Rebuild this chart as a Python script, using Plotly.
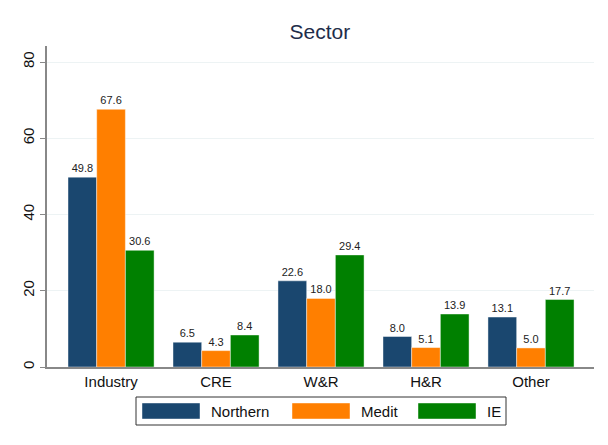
import plotly.graph_objects as go

NAVY = '#1a476f'
ORANGE = '#ff7f00'
GREEN = '#008000'

sectors = ['Industry', 'CRE', 'W&R', 'H&R', 'Other']
northern = [49.8, 6.5, 22.6, 8.0, 13.1]
medit = [67.6, 4.3, 18.0, 5.1, 5.0]
ie = [30.6, 8.4, 29.4, 13.9, 17.7]
y_ticks = [0, 20, 40, 60, 80]

W, H = 608, 445
ML, MR, MT, MB = 39, 22, 38, 86
PW, PH = W - ML - MR, H - MT - MB


def px_x(x):
    return (x - ML) / PW


def px_y(y):
    return (H - MB - y) / PH


series = [('Northern', northern, NAVY), ('Medit', medit, ORANGE), ('IE', ie, GREEN)]

fig = go.Figure()
for name, vals, col in series:
    fig.add_trace(go.Bar(
        x=sectors, y=vals, name=name, showlegend=False,
        marker=dict(color=col, line=dict(color='rgba(255,255,255,0.55)', width=0.8)),
        text=[f'{v:.1f}' for v in vals], textposition='outside',
        textfont=dict(size=11, color='#222222'), cliponaxis=False,
    ))

# Stata-style legend box below the plot
shapes = [dict(type='rect', xref='paper', yref='paper', x0=px_x(128), x1=px_x(498),
               y0=px_y(417), y1=px_y(389), line=dict(color='#333333', width=1),
               fillcolor='white', layer='above')]
annotations = []
sym_left = [134, 284, 410]
for (name, _, col), sx in zip(series, sym_left):
    shapes.append(dict(type='rect', xref='paper', yref='paper', x0=px_x(sx), x1=px_x(sx + 58),
                       y0=px_y(411), y1=px_y(395), fillcolor=col,
                       line=dict(color='rgba(255,255,255,0.55)', width=0.8), layer='above'))
    annotations.append(dict(text=name, xref='paper', yref='paper', x=px_x(sx + 67), y=px_y(403),
                            xanchor='left', yanchor='middle', showarrow=False,
                            font=dict(size=15, color='#111111')))

fig.update_layout(
    width=W, height=H,
    barmode='group', bargap=0.18, bargroupgap=0,
    template='plotly_white',
    font=dict(family='Liberation Sans, Arial, sans-serif', size=14, color='#111111'),
    title=dict(text='Sector', x=0.513, xanchor='center', y=0.946, yanchor='middle',
               font=dict(size=21, color='#1e2d4a')),
    margin=dict(l=ML, r=MR, t=MT, b=MB, autoexpand=False),
    paper_bgcolor='white', plot_bgcolor='white',
    uniformtext=dict(minsize=11, mode='show'),
    shapes=shapes, annotations=annotations,
)
fig.update_xaxes(range=[-0.61, 4.6], showgrid=False, showline=True, linecolor='#888888',
                 linewidth=1.5, ticks='', tickfont=dict(size=15), automargin=False)
fig.update_yaxes(range=[0, 84.2], tickvals=y_ticks, showgrid=True, gridcolor='#edf3f4',
                 gridwidth=1, zeroline=False, showline=True, linecolor='#888888', linewidth=1.5,
                 ticks='outside', ticklen=5, tickcolor='#888888', tickangle=-90,
                 tickfont=dict(size=15), automargin=False)

fig.write_html('out.html')
